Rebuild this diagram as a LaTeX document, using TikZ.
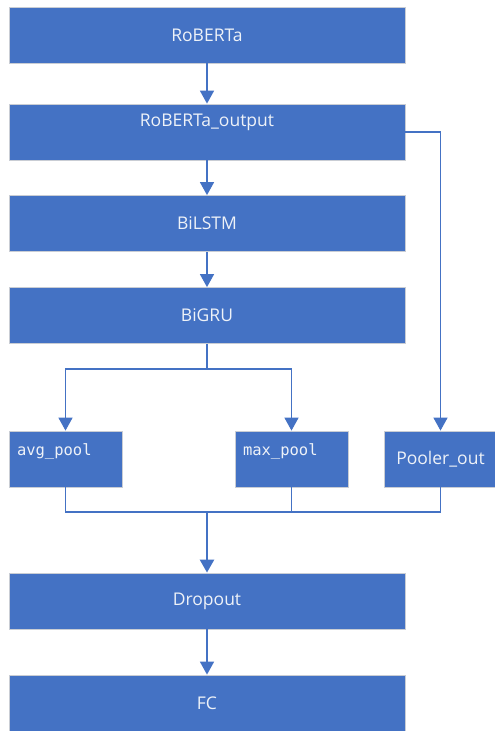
\documentclass[tikz,border=0pt]{standalone}
\usepackage{fontspec}
\setmainfont{Open Sans}
\newfontfamily\poolfont{DejaVu Sans Mono}
\usetikzlibrary{arrows.meta}
\definecolor{boxblue}{HTML}{4472C4}
\definecolor{boxline}{HTML}{C9CDD4}
\definecolor{labeltext}{HTML}{EEF2F8}
\tikzset{
  layer/.style={rectangle, fill=boxblue, draw=boxline, line width=0.8pt,
    minimum width=396pt, minimum height=56pt, inner sep=0pt,
    text=labeltext, font=\fontsize{17.5}{24}\selectfont, align=center},
  poolbox/.style={layer, minimum width=113pt},
  monobox/.style={poolbox, font=\poolfont\fontsize{15.5}{19}\selectfont,
    text width=97pt, align=left},
  link/.style={draw=boxblue, line width=1.6pt},
  flow/.style={link, -{Triangle[width=14pt,length=13pt]}},
}
\begin{document}
\begin{tikzpicture}[x=1pt, y=-1pt]
  \clip (0,0) rectangle (495,731);
  \fill[white] (0,0) rectangle (495,731);

  % main stack
  \node[layer] (rob)  at (207,35)  {RoBERTa};
  \node[layer] (rout) at (207,132) {RoBERTa\_output\\\mbox{}};
  \node[layer] (lstm) at (207,223.5) {BiLSTM};
  \node[layer] (gru)  at (207,315.5) {BiGRU};

  % pooling branches
  \node[monobox] (avg)  at (65.5,459)  {avg\_pool\\\mbox{}};
  \node[monobox] (maxp) at (291.5,459) {max\_pool\\\mbox{}};
  \node[poolbox] (pool) at (440.5,459) {Pooler\_out};

  % head
  \node[layer] (drop) at (207,601) {Dropout};
  \node[layer] (fc)   at (207,703) {FC};

  % junction points
  \coordinate (split) at (207,369);
  \coordinate (merge) at (207,512);

  % connectors
  \draw[flow] (rob) -- (rout);
  \draw[flow] (rout) -- (lstm);
  \draw[flow] (lstm) -- (gru);
  \draw[link] (gru.south) -- (split);
  \draw[flow] (split) -| (avg.north);
  \draw[flow] (split) -| (maxp.north);
  \draw[flow] (rout.east) -| (pool.north);
  \draw[link] (avg.south) |- (merge);
  \draw[link] (merge) -| (pool.south);
  \draw[link] (maxp.south) -- (maxp.south |- merge);
  \draw[flow, line width=2.4pt] (merge) -- (drop.north);
  \draw[flow] (drop) -- (fc);
\end{tikzpicture}
\end{document}
